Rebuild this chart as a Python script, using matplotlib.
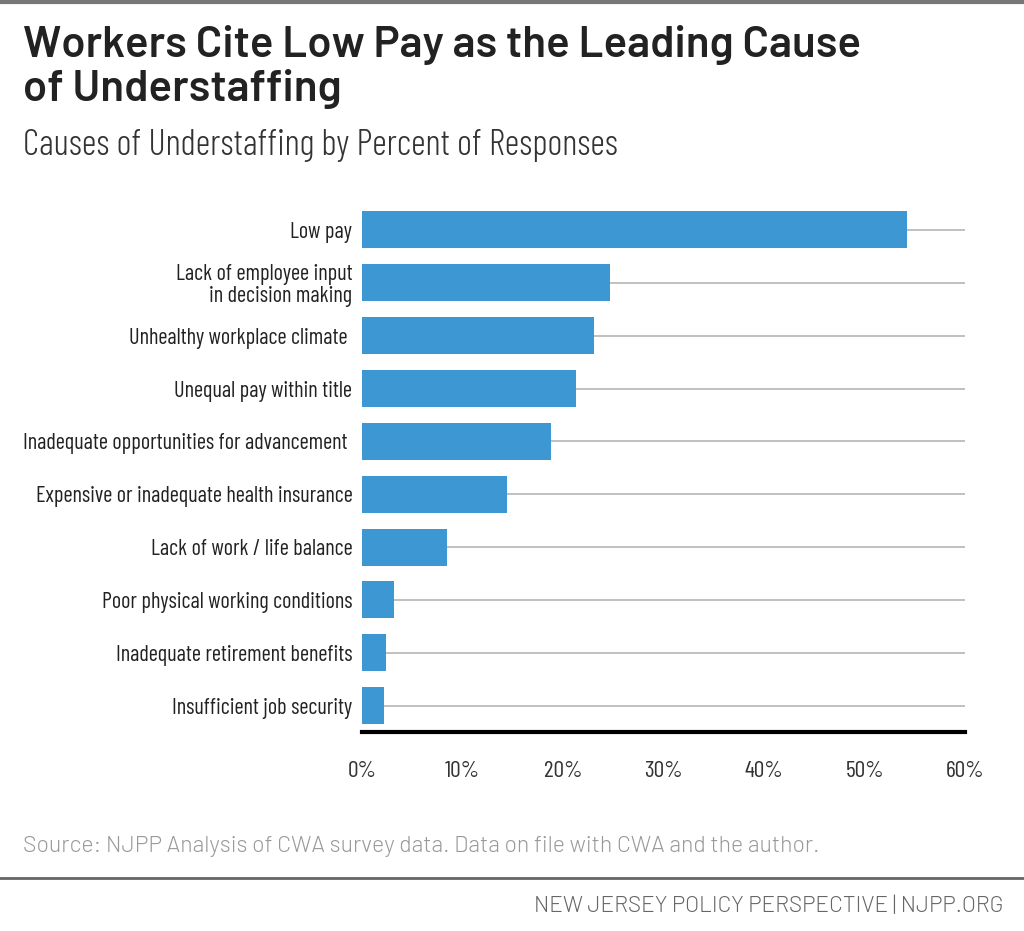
import matplotlib.pyplot as plt
from matplotlib.lines import Line2D

# --- Causes of understaffing ---

causes = [
    "Low pay",
    "Lack of employee input\nin decision making",
    "Unhealthy workplace climate ",
    "Unequal pay within title",
    "Inadequate opportunities for advancement ",
    "Expensive or inadequate health insurance",
    "Lack of work / life balance",
    "Poor physical working conditions",
    "Inadequate retirement benefits",
    "Insufficient job security",
]
percent = [54.2, 24.7, 23.1, 21.3, 18.8, 14.4, 8.5, 3.2, 2.4, 2.2]
xticks = [0, 10, 20, 30, 40, 50, 60]

cond = ["Barlow Condensed", "DejaVu Sans"]
wide = ["Barlow", "DejaVu Sans"]
plt.rcParams["font.family"] = cond

fig = plt.figure(figsize=(10.24, 9.31), dpi=100)
ax = fig.add_axes([0.3535, 0.2137, 0.5889, 0.5677])

ypos = list(range(len(causes)))
for y in ypos:
    ax.axhline(y, color="#b5b5b5", lw=1.2, zorder=1)
ax.barh(ypos, percent, height=0.7, color="#3d97d3", zorder=2)

ax.set_xlim(0, 60)
ax.set_ylim(len(causes) - 0.5, -0.5)
ax.set_yticks(ypos)
ax.set_yticklabels(causes, fontsize=16, color="#222222", ha="right", linespacing=1.05)
ax.set_xticks(xticks)
ax.set_xticklabels([f"{t}%" for t in xticks], fontsize=17, color="#333333")
ax.tick_params(length=0)
ax.tick_params(axis="y", pad=7)
ax.tick_params(axis="x", pad=21)
for s in ["top", "right", "left"]:
    ax.spines[s].set_visible(False)
ax.spines["bottom"].set_linewidth(3)
ax.spines["bottom"].set_color("black")

fig.text(0.022, 0.939, "Workers Cite Low Pay as the Leading Cause",
         fontsize=31.5, family=wide, fontweight=600, color="#222222", va="baseline")
fig.text(0.022, 0.8915, "of Understaffing",
         fontsize=31.5, family=wide, fontweight=600, color="#222222", va="baseline")
fig.text(0.022, 0.8335, "Causes of Understaffing by Percent of Responses",
         fontsize=26, family=cond, fontweight=300, color="#333333", va="baseline")
fig.text(0.022, 0.085, "Source: NJPP Analysis of CWA survey data. Data on file with CWA and the author.",
         fontsize=16.6, family=wide, fontweight=300, color="#999999", va="baseline")
fig.text(0.98, 0.0204, "NEW JERSEY POLICY PERSPECTIVE | NJPP.ORG",
         fontsize=16.3, family=wide, fontweight=300, color="#666666", ha="right", va="baseline")

fig.add_artist(Line2D([0, 1], [0.998, 0.998], color="#777777", lw=3))
fig.add_artist(Line2D([0, 1], [0.057, 0.057], color="#666666", lw=2))

fig.savefig("out.png", dpi=100)
plt.close(fig)
